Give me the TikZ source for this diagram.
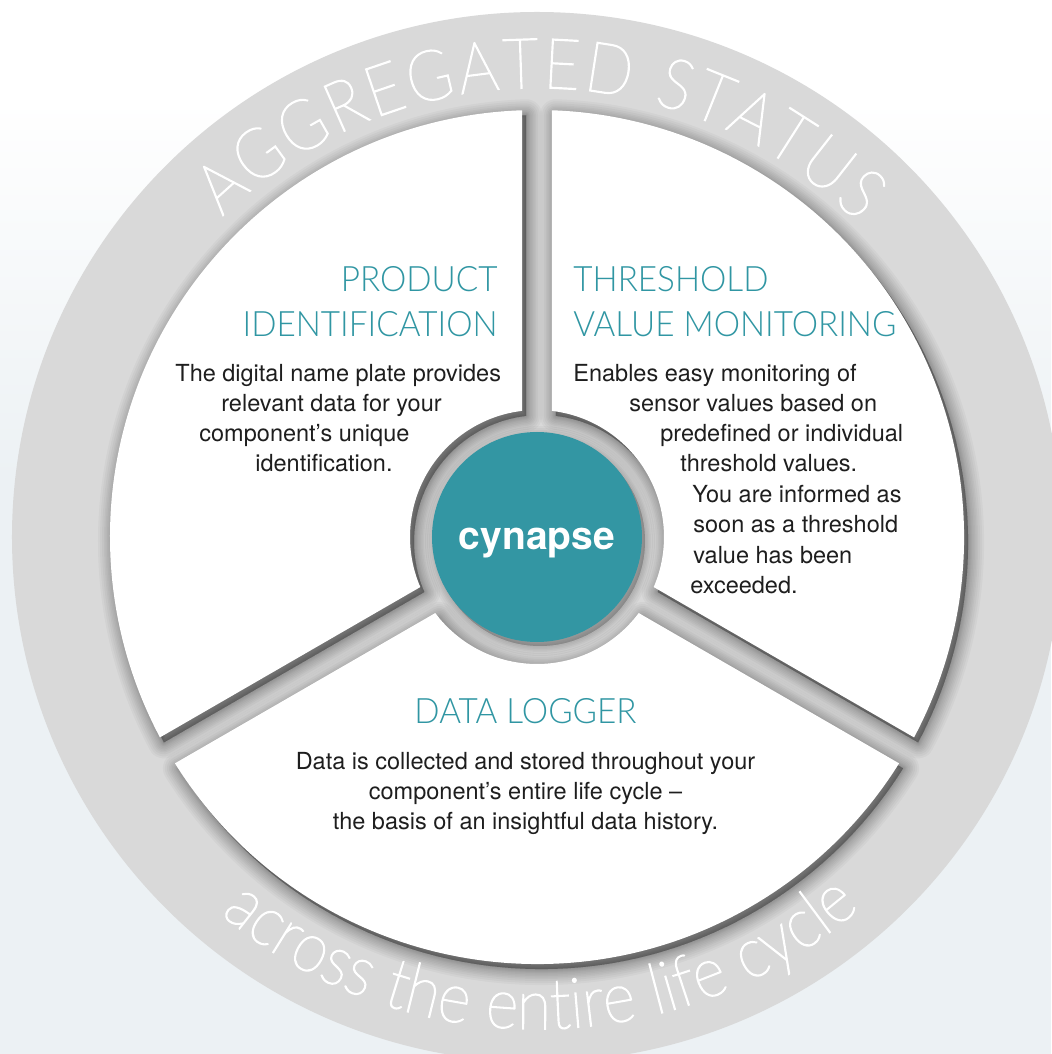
\documentclass[tikz,border=0pt]{standalone}
\usepackage{fontspec}
\setmainfont{TeX Gyre Heros}
\IfFontExistsTF{Lato Light}{\newfontfamily\lightfont[FakeStretch=0.95]{Lato Light}}{\newfontfamily\lightfont{TeX Gyre Heros}}
\IfFontExistsTF{Lato Hairline}{\newfontfamily\ringfont[FakeStretch=0.89, FakeBold=2]{Lato Hairline}}{\newfontfamily\ringfont[FakeStretch=0.88]{Lato Light}}
\usetikzlibrary{decorations.text}
\definecolor{ringgray}{RGB}{217,217,217}
\definecolor{hubteal}{RGB}{51,150,163}
\definecolor{titleteal}{RGB}{48,150,163}
\definecolor{bodytext}{RGB}{30,30,30}
\definecolor{bgtint}{RGB}{236,241,244}
\newcommand\panelpath[2]{({#1+6.78}:127) -- ({#1+2.01}:427) arc[start angle={#1+2.01}, end angle={#2-2.01}, radius=427] -- ({#2-6.78}:127) arc[start angle={#2-6.78}, end angle={#1+6.78}, radius=127] -- cycle}
\newcommand\panelshadow[2]{%
  \foreach \w in {16pt,14pt,12pt,10pt,8.5pt,7pt,5.5pt,4pt,3pt,2pt,1pt,0.1pt}{%
    \filldraw[black, opacity=0.03, line width=\w, line join=round, shift={(4,-5)}] \panelpath{#1}{#2};
  }}
\tikzset{
  body/.style={font=\fontsize{11.75}{15}\selectfont, text=bodytext, inner sep=0pt},
  title/.style={font=\lightfont\fontsize{17.5}{22.5}\selectfont, text=titleteal, inner sep=0pt},
  panelfill/.style={fill=white},
}
\begin{document}
\begin{tikzpicture}[x=0.5pt,y=0.5pt]
\useasboundingbox (-537,-517) rectangle (514,537);
% background
\fill[bgtint] (-537,-517) rectangle (514,537);
\shade[top color=white, bottom color=bgtint] (-537,57) rectangle (514,437);
\fill[white] (-537,437) rectangle (514,537);
% ring
\fill[ringgray] (0,0) circle[radius=525];
% shadows of panels
\panelshadow{90}{210}
\panelshadow{-30}{90}
\panelshadow{210}{330}
% panels
\fill[panelfill] \panelpath{90}{210};
\fill[panelfill] \panelpath{-30}{90};
\fill[panelfill] \panelpath{210}{330};
% hub
\foreach \w in {10pt,8pt,6pt,4.5pt,3pt,1.5pt,0.1pt}{%
  \filldraw[black, opacity=0.03, line width=\w, shift={(3,-4)}] (0,0) circle[radius=105];
}
\fill[hubteal] (0,0) circle[radius=105];
\node[font=\bfseries\fontsize{19.5}{20}\selectfont, text=white, anchor=base, inner sep=0pt] (hub) at (0,-12) {cynapse};
% curved texts
\path[decorate, decoration={text along path, text align={fit to path}, text color=white,
  text={|\ringfont\fontsize{35}{40}\selectfont|AGGREGATED STATUS}}]
  (134.5:449) arc[start angle=134.5, end angle=44.5, radius=449];
\path[decorate, decoration={text along path, text align={fit to path}, text color=white,
  text={|\ringfont\fontsize{35}{40}\selectfont|across the entire life cycle}}]
  (-130:492) arc[start angle=-130, end angle=-49, radius=492];
% titles
\node[title, anchor=base east] (t1a) at (-39,245) {PRODUCT};
\node[title, anchor=base east] (t1b) at (-39,200) {IDENTIFICATION};
\node[title, anchor=base west] (t2a) at (36,245) {THRESHOLD};
\node[title, anchor=base west] (t2b) at (36,200) {VALUE MONITORING};
\node[title, anchor=base] (t3) at (-11.5,-186) {DATA LOGGER};
% left panel text
\node[body, anchor=base west] (l1) at (-362,155) {The digital name plate provides};
\node[body, anchor=base west] (l2) at (-316,125) {relevant data for your};
\node[body, anchor=base west] (l3) at (-338,95) {component’s unique};
\node[body, anchor=base west] (l4) at (-282,65) {identification.};
% right panel text
\node[body, anchor=base west] (r1) at (36,155) {Enables easy monitoring of};
\node[body, anchor=base west] (r2) at (92,125) {sensor values based on};
\node[body, anchor=base west] (r3) at (123,95) {predefined or individual};
\node[body, anchor=base west] (r4) at (143,65) {threshold values.};
\node[body, anchor=base west] (r5) at (155,34) {You are informed as};
\node[body, anchor=base west] (r6) at (156,4) {soon as a threshold};
\node[body, anchor=base west] (r7) at (156,-26) {value has been};
\node[body, anchor=base west] (r8) at (153,-56) {exceeded.};
% bottom panel text
\node[body, anchor=base] (b1) at (-11.5,-232) {Data is collected and stored throughout your};
\node[body, anchor=base] (b2) at (-11.5,-262) {component’s entire life cycle –};
\node[body, anchor=base] (b3) at (-11.5,-292) {the basis of an insightful data history.};
\end{tikzpicture}
\end{document}
